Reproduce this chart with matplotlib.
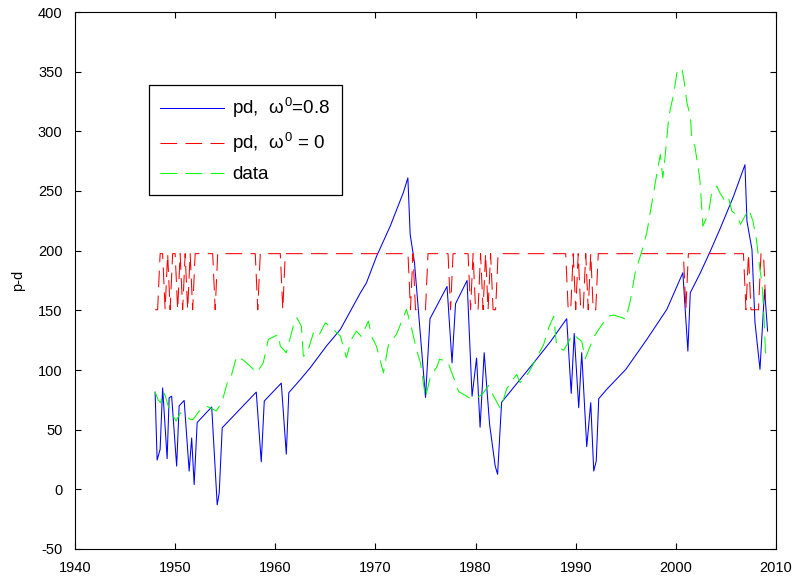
import matplotlib
matplotlib.use("Agg")
import matplotlib.pyplot as plt

# ---------------- data ----------------
H, L = 197.5, 150.5

blue_years = [1948.0, 1948.2, 1948.5, 1948.75, 1949.2, 1949.4, 1949.65, 1950.15, 1950.4, 1950.9,
              1951.4, 1951.65, 1951.9, 1952.2, 1953.65, 1954.2, 1954.4, 1954.7, 1958.1, 1958.6,
              1958.9, 1960.6, 1961.1, 1961.35, 1962.5, 1963.5, 1965.1, 1966.5, 1968.5, 1969.1,
              1970.1, 1971.5, 1972.8, 1973.24, 1973.47, 1973.9, 1975.0, 1975.45, 1977.15, 1977.65,
              1978.0, 1979.15, 1979.65, 1980.1, 1980.45, 1980.86, 1981.4, 1981.96, 1982.2, 1982.6,
              1985.8, 1987.5, 1989.1, 1989.55, 1989.85, 1990.3, 1990.6, 1991.1, 1991.5, 1991.8,
              1992.05, 1992.3, 1993.1, 1995.0, 1997.1, 1999.1, 2000.7, 2001.2, 2001.44, 2002.45,
              2003.44, 2004.45, 2005.76, 2006.9, 2007.1, 2007.6, 2007.9, 2008.4, 2008.86, 2009.16]
blue_values = [81.5, 24.5, 33.5, 85, 25.7, 76.8, 78, 19.5, 70, 74.5,
               15.3, 43, 4, 56, 69, -13, -3, 51.6, 81.5, 23,
               74, 89, 29.5, 81, 92, 102, 120, 134, 164.7, 173,
               195, 221, 249, 261, 213.6, 190, 77, 143, 170, 106,
               155.5, 175, 78, 110, 52, 114.5, 54.4, 19.5, 12.6, 73,
               106, 124, 143, 80.4, 130.6, 68.4, 114.5, 35.7, 72.6, 15.3,
               23.7, 76, 83.8, 100.5, 125.6, 150.8, 181.5, 115.8, 164.7, 181.5,
               199.6, 219, 245.6, 272, 224.7, 201, 140, 100.5, 167.5, 132.6]

red_years = [1948.0, 1948.25, 1948.5, 1948.75, 1949.0, 1949.25, 1949.5, 1949.75, 1950.0, 1950.25,
             1950.5, 1950.75, 1951.0, 1951.25, 1951.5, 1951.75, 1952.0, 1953.75, 1954.0, 1954.25,
             1958.0, 1958.25, 1958.5, 1960.5, 1960.75, 1961.0, 1973.25, 1973.5, 1973.75, 1974.0,
             1975.0, 1975.25, 1977.25, 1977.5, 1977.75, 1979.25, 1979.5, 1979.75, 1980.0, 1980.25,
             1980.5, 1980.75, 1981.0, 1981.25, 1981.5, 1981.75, 1982.0, 1982.25, 1989.0, 1989.25,
             1989.5, 1989.75, 1990.0, 1990.25, 1990.5, 1990.75, 1991.0, 1991.25, 1991.5, 1991.75,
             1992.0, 1992.25, 2000.75, 2001.0, 2001.25, 2006.75, 2007.0, 2007.25, 2007.5, 2008.25,
             2008.5, 2008.75, 2009.0]
red_values = [L, L, H, H, L, H, L, H, H, L,
              H, L, H, L, H, L, H, H, L, H,
              H, L, H, H, L, H, H, L, H, L,
              L, H, H, L, H, H, L, H, L, L,
              H, L, H, L, H, L, L, H, H, L,
              L, H, L, H, L, L, H, L, H, L,
              L, H, H, L, H, H, L, H, L, L,
              H, H, L]

green_years = [1948.0, 1948.3, 1948.56, 1948.8, 1949.0, 1949.3, 1949.8, 1950.1, 1950.5, 1951.0,
               1951.5, 1951.8, 1952.4, 1953.1, 1953.6, 1954.1, 1954.65, 1955.3, 1955.6, 1956.15,
               1956.8, 1957.3, 1958.15, 1958.8, 1959.3, 1960.3, 1960.5, 1961.1, 1961.8, 1962.15,
               1962.6, 1962.8, 1963.15, 1963.8, 1964.3, 1965.0, 1965.5, 1966.5, 1967.1, 1967.6,
               1968.1, 1968.6, 1969.3, 1969.6, 1970.1, 1970.8, 1971.3, 1972.1, 1972.5, 1973.1,
               1973.6, 1974.1, 1974.5, 1975.0, 1975.5, 1976.1, 1976.4, 1977.2, 1977.5, 1978.0,
               1978.3, 1978.8, 1979.5, 1980.2, 1980.7, 1981.3, 1981.8, 1982.5, 1983.1, 1983.5,
               1984.1, 1984.45, 1985.3, 1986.1, 1986.8, 1987.3, 1987.8, 1988.1, 1988.8, 1989.7,
               1990.6, 1990.95, 1991.3, 1991.8, 1992.3, 1993.2, 1993.8, 1994.6, 1995.0, 1995.45,
               1995.95, 1996.6, 1997.1, 1997.6, 1998.0, 1998.45, 1998.7, 1998.9, 1999.3, 1999.8,
               2000.1, 2000.6, 2000.85, 2001.1, 2001.45, 2001.6, 2001.9, 2002.1, 2002.4, 2002.7,
               2003.27, 2003.6, 2004.1, 2004.4, 2004.8, 2005.2, 2005.6, 2006.1, 2006.45, 2006.9,
               2007.3, 2007.7, 2008.05, 2008.4, 2008.6, 2008.8, 2008.95, 2009.1]
green_values = [81.5, 75, 72.6, 82, 78.7, 70, 61.4, 57.2, 64, 62.8,
                58.6, 58.6, 65.6, 69.8, 68, 65.6, 72.6, 92, 95, 111.6,
                108.3, 104.7, 97.7, 106, 125.6, 129.8, 120, 114.5, 136.8, 143.8,
                136.8, 111.6, 113, 131, 128, 139.6, 136.3, 128.4, 110.3, 125.6,
                132.6, 128, 141, 128.4, 120, 97.7, 121.4, 129.8, 138.2, 150.8,
                135.4, 117, 106, 76.8, 95, 102, 108.9, 107.5, 100.5, 89.4,
                82, 79.6, 76, 77, 80, 87, 78, 67.5, 84, 89.4,
                96.3, 89.4, 97.7, 110.3, 121.4, 135.4, 145, 120, 116.5, 130,
                124, 109.5, 117, 127.5, 134, 145, 146, 144, 142.4, 158,
                182, 199.6, 215, 240, 259.6, 280.6, 261, 276.4, 312.6, 332,
                349, 353, 340.6, 324, 312.6, 293, 287.5, 276.4, 259.6, 220.5,
                231.7, 250, 254, 248.5, 243, 246, 233, 230, 222, 229,
                234.5, 224.7, 209, 184, 173, 145, 114.5, 111.6]

labels = [r'pd,  $\omega^{0}$=0.8', r'pd,  $\omega^{0}$ = 0', 'data']
xticks = list(range(1940, 2011, 10))
yticks = list(range(-50, 401, 50))

# ---------------- style ----------------
plt.rcParams['font.family'] = ['Liberation Sans', 'DejaVu Sans']
plt.rcParams['mathtext.fontset'] = 'custom'
plt.rcParams['mathtext.rm'] = 'Liberation Sans'
plt.rcParams['mathtext.it'] = 'Liberation Sans'
plt.rcParams['lines.scale_dashes'] = False
plt.rcParams['axes.unicode_minus'] = False

fig = plt.figure(figsize=(7.96, 5.82), dpi=100)
ax = fig.add_axes([75/796, 33/582, 701/796, 537/582])

lw = 0.75
ax.plot(blue_years, blue_values, color=(0, 0, 1), lw=lw, label=labels[0])
ax.plot(red_years, red_values, color=(1, 0, 0), lw=lw, dashes=(12, 6), label=labels[1])
ax.plot(green_years, green_values, color=(0, 1, 0), lw=lw, dashes=(12, 6), label=labels[2])

ax.set_xlim(1940, 2010)
ax.set_ylim(-50, 400)
ax.set_xticks(xticks)
ax.set_yticks(yticks)
ax.tick_params(direction='in', length=4.5, width=0.8, top=True, right=True, labelsize=10.5)
ax.tick_params(axis='x', pad=9)
ax.tick_params(axis='y', pad=9)
for s in ax.spines.values():
    s.set_linewidth(0.8)
ax.set_ylabel('p-d', fontsize=10.5, labelpad=9)

leg = ax.legend(loc='upper left', bbox_to_anchor=((149 - 75) / 701, (549 - 85) / 537),
                borderaxespad=0, fancybox=False, edgecolor='black', framealpha=1,
                fontsize=13.5, handlelength=3.4, handletextpad=0.45, labelspacing=0.58,
                borderpad=0.6)
leg.get_frame().set_linewidth(0.9)

fig.savefig('out.png', dpi=100)
